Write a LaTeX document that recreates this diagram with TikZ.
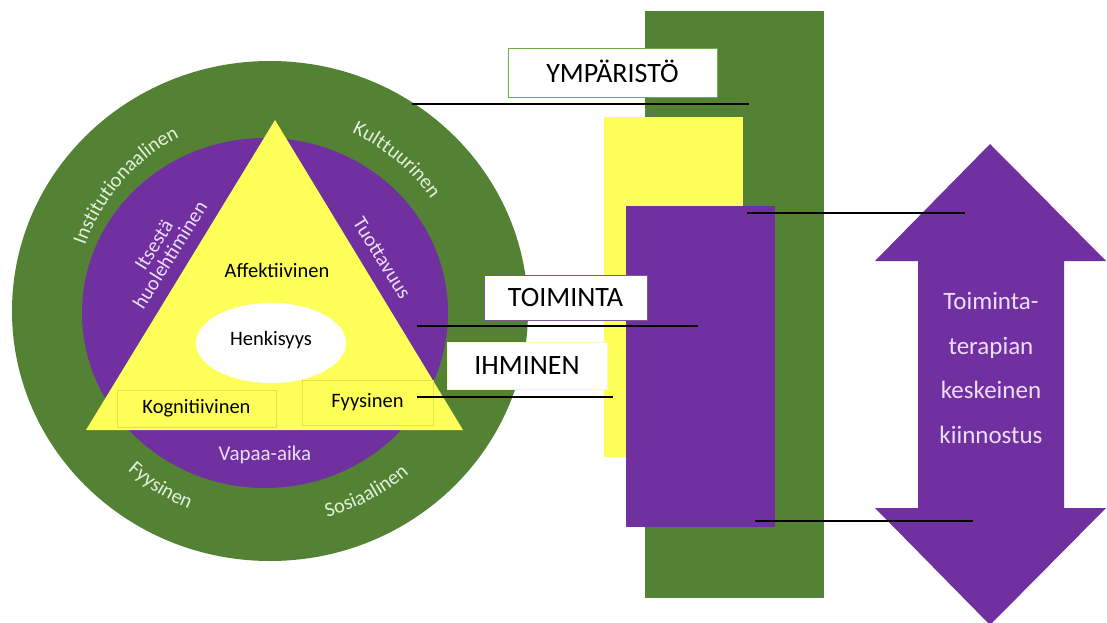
\documentclass[tikz,border=0pt]{standalone}
\usepackage{fontspec}
\setmainfont{Carlito}
\usetikzlibrary{decorations.text}
\definecolor{ringgreen}{RGB}{84,130,53}
\definecolor{ringpurple}{RGB}{112,48,160}
\definecolor{brightyellow}{RGB}{255,255,90}
\definecolor{boxyellow}{RGB}{228,228,70}
\definecolor{greentext}{RGB}{226,240,217}
\definecolor{purpletext}{RGB}{236,222,248}
\definecolor{lightgreenborder}{RGB}{112,173,71}
\definecolor{paleyellowborder}{RGB}{250,250,180}
\definecolor{greypurple}{RGB}{120,90,150}
\newcommand\ringtxt{\color{greentext}\fontsize{20.5}{24}\selectfont}
\begin{document}
\begin{tikzpicture}[x=1pt,y=1pt,
  labelbox/.style={draw, line width=1pt, fill=white, inner sep=0pt, text height=18pt, text depth=0pt, font=\fontsize{28}{30}\selectfont},
  innerbox/.style={draw=boxyellow, line width=0.6pt, inner sep=0pt, text height=13pt, text depth=4pt, font=\fontsize{20.5}{24}\selectfont},
  purpletxt/.style={text=purpletext, font=\fontsize{20.5}{19}\selectfont, align=center, inner sep=0pt},
  darktxt/.style={text=black, font=\fontsize{20.5}{24}\selectfont, inner sep=0pt},
  conn/.style={draw=black, line width=1.3pt},
  ringtextpath/.style={decorate, decoration={text along path, text align=center, text={#1}}}
]
\useasboundingbox (0,0) rectangle (1107,622);
\fill[white] (0,0) rectangle (1107,622);

% ---- circle diagram ----
\coordinate (c) at (270,311);
\fill[ringgreen] (c) ellipse[x radius=258, y radius=250];
\fill[ringpurple] (265,309) ellipse[x radius=183, y radius=175];
\fill[brightyellow] (275,502) -- (86,192) -- (463,192) -- cycle;
\fill[white] (271,279) ellipse[x radius=75, y radius=40];

\node[innerbox, minimum width=159pt, minimum height=37pt] (kog) at (196.5,213.5) {Kognitiivinen};
\node[innerbox, minimum width=131pt, minimum height=45pt] (fyy) at (367.5,219.5) {Fyysinen};
\node[darktxt] (aff) at (277,352) {Affektiivinen};
\node[darktxt] (henk) at (271,282) {Henkisyys};
\node[purpletxt, font=\fontsize{21}{24}\selectfont] (vapaa) at (265,167) {Vapaa-aika};
\node[purpletxt, rotate=58] (itse) at (162,372) {Itsestä\\huolehtiminen};
\node[purpletxt, rotate=-58] (tuot) at (382,364) {Tuottavuus};

\path[ringtextpath={|\ringtxt|Institutionaalinen}] (c) ++(176:196) arc[start angle=176, end angle=102, radius=196];
\path[ringtextpath={|\ringtxt|Kulttuurinen}] (c) ++(86:196) arc[start angle=86, end angle=14, radius=196];
\path[ringtextpath={|\ringtxt|Fyysinen}] (c) ++(204:214) arc[start angle=204, end angle=272, radius=214];
\path[ringtextpath={|\ringtxt|Sosiaalinen}] (c) ++(264:214) arc[start angle=264, end angle=332, radius=214];

% ---- right side bars ----
\fill[ringgreen] (645,24) rectangle (824,611);
\node[labelbox, draw=lightgreenborder, minimum width=209pt, minimum height=49pt] (ymp) at (612.5,548.5) {YMPÄRISTÖ};
\fill[brightyellow] (604,165) rectangle (743,505);
\fill[ringpurple] (626,95) rectangle (775,416);
\node[labelbox, draw=greypurple, line width=0.8pt, minimum width=163pt, minimum height=45pt] (toim) at (565.5,324.5) {TOIMINTA};
\node[labelbox, draw=paleyellowborder, minimum width=160pt, minimum height=47pt] (ihm) at (527,256.5) {IHMINEN};

% ---- double arrow ----
\fill[ringpurple] (990,478) -- (1106,361) -- (1064,361) -- (1064,114) -- (1106,114) -- (990,-3)
  -- (875,114) -- (918,114) -- (918,361) -- (875,361) -- cycle;
\node[text=purpletext, font=\fontsize{25}{44.5}\selectfont, align=center, inner sep=0pt] (arrtxt) at (991,254)
  {Toiminta-\\terapian\\keskeinen\\kiinnostus};

% ---- connector lines ----
\coordinate (l1a) at (412,518); \coordinate (l1b) at (749,518);
\coordinate (l2a) at (747,409); \coordinate (l2b) at (965,409);
\coordinate (l3a) at (417,296); \coordinate (l3b) at (698,296);
\coordinate (l4a) at (417,225); \coordinate (l4b) at (613,225);
\coordinate (l5a) at (755,101); \coordinate (l5b) at (973,101);
\draw[conn] (l1a) -- (l1b);
\draw[conn] (l2a) -- (l2b);
\draw[conn] (l3a) -- (l3b);
\draw[conn] (l4a) -- (l4b);
\draw[conn] (l5a) -- (l5b);
\end{tikzpicture}
\end{document}
